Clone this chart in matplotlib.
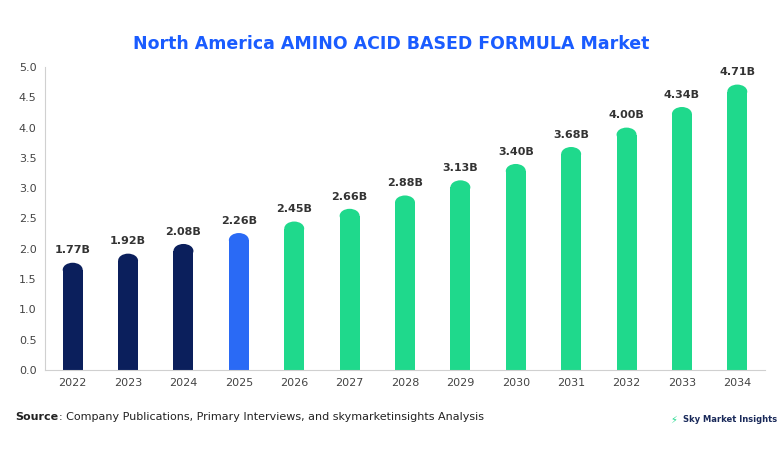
import matplotlib
matplotlib.use("Agg")
import matplotlib.pyplot as plt
from matplotlib.patches import Ellipse

years = ["2022","2023","2024","2025","2026","2027","2028","2029","2030","2031","2032","2033","2034"]
values = [1.77,1.92,2.08,2.26,2.45,2.66,2.88,3.13,3.40,3.68,4.00,4.34,4.71]
labels = ["1.77B","1.92B","2.08B","2.26B","2.45B","2.66B","2.88B","3.13B","3.40B","3.68B","4.00B","4.34B","4.71B"]
colors = ["#0b1f5c"]*3 + ["#2a6af5"] + ["#1fd98c"]*9

fig = plt.figure(figsize=(7.82,4.54), dpi=100)
ax = fig.add_axes([45/782, 1-370/454, 720/782, 303/454])
ax.set_xlim(-0.5, len(years)-0.5)
ax.set_ylim(0, 5.0)
w = 0.36
ppy = 303/5
rx = w/2
ry = 7/ppy
for i,(v,c) in enumerate(zip(values,colors)):
    ax.bar(i, v-ry, width=w, color=c, align='center', linewidth=0)
    ax.add_patch(Ellipse((i, v-ry), 2*rx, 2*ry, color=c, linewidth=0))
    ax.text(i, v+0.12, labels[i], ha='center', va='bottom', fontsize=8, fontweight='bold', color='#333333')
ax.set_xticks(range(len(years)))
ax.set_xticklabels(years)
ax.set_yticks([i*0.5 for i in range(11)])
ax.set_yticklabels([f"{i*0.5:.1f}" for i in range(11)])
ax.tick_params(labelsize=8, colors='#444444', length=0, pad=6)
for s in ['top','right']:
    ax.spines[s].set_visible(False)
for s in ['left','bottom']:
    ax.spines[s].set_color('#d0d0d0')
fig.text(0.5, 1-44/454, "North America AMINO ACID BASED FORMULA Market", ha='center', va='center',
         fontsize=12.5, fontweight='bold', color='#1a5cff')
src = fig.text(15/782, 1-417/454, "Source", fontsize=8, fontweight='bold', va='center', color='#222222')
fig.canvas.draw()
bb = src.get_window_extent()
fig.text(bb.x1/782 + 1/782, 1-417/454, ": Company Publications, Primary Interviews, and skymarketinsights Analysis", fontsize=8, va='center', color='#222222')
fig.text(683/782, 1-420/454, "Sky Market Insights", fontsize=6, fontweight='bold', va='center', color='#1a2a5a')
fig.text(670/782, 1-420/454, "⚡", fontsize=7, va='center', color='#1fd98c')
fig.savefig("out.png", dpi=100)
